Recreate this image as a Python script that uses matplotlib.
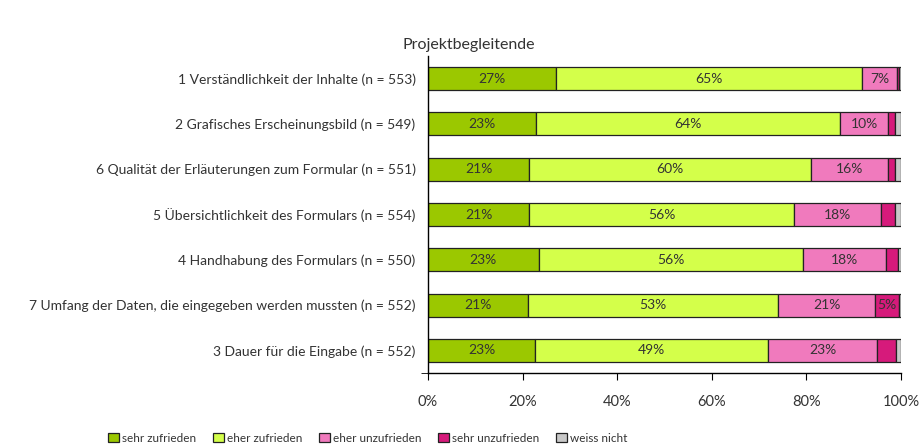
import matplotlib.pyplot as plt
import numpy as np

plt.rcParams["font.family"] = ["Lato", "DejaVu Sans"]

categories = [
    "1 Verständlichkeit der Inhalte (n = 553)",
    "2 Grafisches Erscheinungsbild (n = 549)",
    "6 Qualität der Erläuterungen zum Formular (n = 551)",
    "5 Übersichtlichkeit des Formulars (n = 554)",
    "4 Handhabung des Formulars (n = 550)",
    "7 Umfang der Daten, die eingegeben werden mussten (n = 552)",
    "3 Dauer für die Eingabe (n = 552)",
]
series = ["sehr zufrieden", "eher zufrieden", "eher unzufrieden",
          "sehr unzufrieden", "weiss nicht"]
sehr_zufrieden = [27.0, 22.9, 21.4, 21.4, 23.4, 21.1, 22.7]
eher_zufrieden = [64.8, 64.3, 59.6, 56.0, 55.8, 52.9, 49.1]
eher_unzufrieden = [7.3, 10.1, 16.2, 18.4, 17.7, 20.6, 23.2]
sehr_unzufrieden = [0.5, 1.4, 1.5, 2.9, 2.4, 5.0, 3.9]
weiss_nicht = [0.4, 1.3, 1.3, 1.3, 0.7, 0.4, 1.1]
colors = ["#9BC800", "#D4FF4A", "#F07ABD", "#D61A7B", "#C8C8C8"]

data = [sehr_zufrieden, eher_zufrieden, eher_unzufrieden,
        sehr_unzufrieden, weiss_nicht]

fig = plt.figure(figsize=(9.22, 4.48), dpi=100)
ax = fig.add_axes([428 / 922, 1 - 373 / 448, 473 / 922, 317 / 448])

y = np.arange(len(categories))
left = np.zeros(len(categories))
for name, vals, col in zip(series, data, colors):
    vals = np.array(vals)
    ax.barh(y, vals, left=left, height=0.51, color=col, edgecolor="#222222",
            linewidth=0.9, label=name)
    for yi, l, v in zip(y, left, vals):
        if v >= 4.5:
            ax.text(l + v / 2, yi, f"{round(v):.0f}%", ha="center",
                    va="center", fontsize=10, color="#333333")
    left += vals

ax.set_ylim(len(categories) - 0.5, -0.5)
ax.set_xlim(0, 100)
ax.set_yticks(y)
ax.set_yticklabels(categories, fontsize=10, color="#333333")
ax.tick_params(axis="y", length=0, pad=9)
ax.set_yticks([len(categories) - 0.5], minor=True)
ax.tick_params(axis="y", which="minor", length=5, direction="out")
ax.set_xticks(np.arange(0, 101, 20))
ax.set_xticklabels([f"{v}%" for v in range(0, 101, 20)], fontsize=10.5,
                   color="#333333")
ax.tick_params(axis="x", length=5, direction="out", pad=11)
for s in ["top", "right"]:
    ax.spines[s].set_visible(False)
for s in ["left", "bottom"]:
    ax.spines[s].set_linewidth(1.0)

fig.text(469 / 922, 1 - 45 / 448, "Projektbegleitende", ha="center",
         va="center", fontsize=11.5, color="#333333")

fig.legend(loc="center", bbox_to_anchor=(368 / 922, 1 - 438 / 448), ncol=5,
           frameon=False, fontsize=8.5, handlelength=0.9, handleheight=0.9,
           handletextpad=0.3, columnspacing=1.4, labelcolor="#333333")

fig.savefig("out.png", dpi=100)
